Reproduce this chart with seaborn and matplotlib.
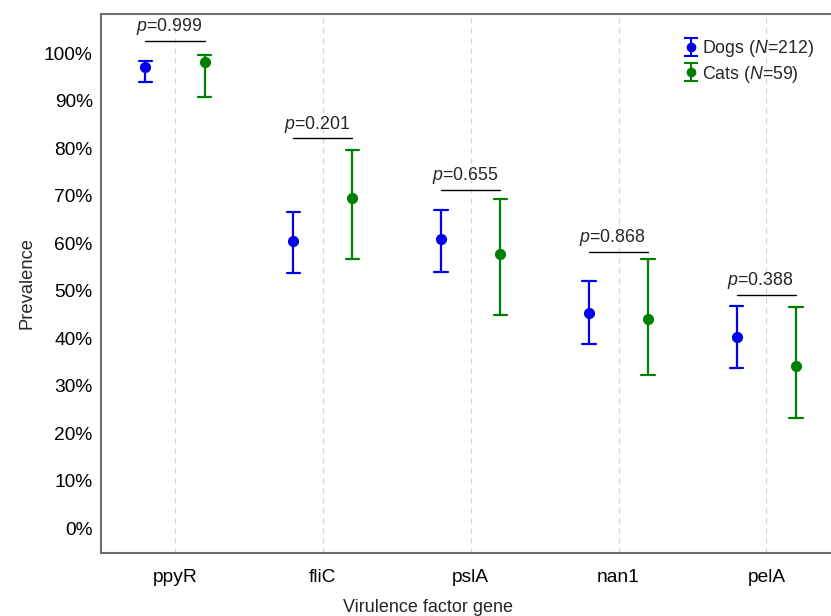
import numpy as np
import pandas as pd
import matplotlib
matplotlib.use("Agg")
import matplotlib.pyplot as plt
import seaborn as sns
from matplotlib.ticker import FuncFormatter

genes = ["ppyR", "fliC", "pslA", "nan1", "pelA"]
groups = ["Dogs (N=212)", "Cats (N=59)"]
dogs_mean = [97.1, 60.5, 60.9, 45.3, 40.3]
dogs_low = [93.9, 53.8, 54.0, 38.8, 33.7]
dogs_high = [98.5, 66.7, 67.1, 52.1, 46.9]
cats_mean = [98.3, 69.5, 57.7, 44.1, 34.2]
cats_low = [90.9, 56.8, 45.0, 32.3, 23.3]
cats_high = [99.7, 79.6, 69.3, 56.8, 46.7]
p_values = ["0.999", "0.201", "0.655", "0.868", "0.388"]
p_line_y = [102.6, 82.1, 71.3, 58.3, 49.2]

rows = []
for g, lo, mu, hi in [(groups[0], dogs_low, dogs_mean, dogs_high),
                      (groups[1], cats_low, cats_mean, cats_high)]:
    for gene, a, b, c in zip(genes, lo, mu, hi):
        for v in (a, b, c):
            rows.append({"gene": gene, "group": g, "value": v})
df = pd.DataFrame(rows)

sns.set_style("white")
plt.rcParams['font.family'] = ['Liberation Sans', 'DejaVu Sans']
plt.rcParams['mathtext.fontset'] = 'custom'
plt.rcParams['mathtext.it'] = 'Liberation Sans:italic'
plt.rcParams['mathtext.rm'] = 'Liberation Sans'

fig = plt.figure(figsize=(8.31, 6.16), dpi=100)
ax = fig.add_axes([101/831, (616-552.7)/616, 729/831, (552.7-14)/616])

colors = ["#0000EE", "#008000"]
palette = dict(zip(groups, colors))
sns.pointplot(data=df, x="gene", y="value", hue="group", order=genes,
              hue_order=groups, palette=palette,
              estimator=np.median, errorbar=lambda v: (v.min(), v.max()),
              dodge=0.4, linestyle="none", capsize=0.09, markersize=6,
              err_kws={"linewidth": 1.6}, ax=ax, legend=False)

ax.set_xlim(-0.5, 4.43)
ax.set_ylim(-5.1, 108.3)
ax.set_yticks(np.arange(0, 101, 10))
ax.yaxis.set_major_formatter(FuncFormatter(lambda v, p: f"{int(v)}%"))
ax.tick_params(axis="both", direction="in", length=3, width=1, colors="#555555",
               labelcolor="black", labelsize=13.8, pad=6)
ax.tick_params(axis="x", pad=12)

for sp in ["left", "bottom", "top"]:
    ax.spines[sp].set_color("#6e6e6e")
    ax.spines[sp].set_linewidth(1.5)
ax.spines["right"].set_visible(False)

ax.xaxis.grid(True, linestyle=(0, (4, 4)), color="#d0d0d0", linewidth=0.9)
ax.yaxis.grid(False)
ax.set_axisbelow(True)

ax.set_ylabel("Prevalence", fontsize=13.2, labelpad=6)
ax.set_xlabel("")
fig.text(428/831, 1 - 608/616, "Virulence factor gene", ha="center", va="center", fontsize=13)

for i, (pv, ly) in enumerate(zip(p_values, p_line_y)):
    ax.plot([i - 0.2, i + 0.2], [ly, ly], color="black", linewidth=1.0)
    ax.text(i - 0.04, ly + 0.8, f"$p$={pv}", ha="center", va="bottom", fontsize=12.8)

# legend proxies (errorbar glyphs, no visible data)
handles = []
for c in colors:
    h = ax.errorbar([np.nan], [np.nan], yerr=[[1], [1]], fmt="o", color=c,
                    markersize=6, capsize=5, elinewidth=1.5, capthick=1.5)
    handles.append(h)
leg = ax.legend(handles, ["Dogs ($N$=212)", "Cats ($N$=59)"], loc="upper right",
                bbox_to_anchor=(1.0, 0.985), frameon=False,
                fontsize=12.8, handlelength=0.9, handletextpad=0.15,
                labelspacing=0.25)

fig.savefig("out.png", dpi=100)
